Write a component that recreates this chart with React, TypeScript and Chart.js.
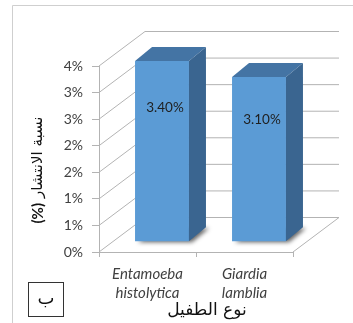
import { useEffect, useRef } from "react";
import { Chart, registerables } from "chart.js";

Chart.register(...registerables);

// ---- data ----
const categories: string[][] = [
  ["Entamoeba", "histolytica"],
  ["Giardia", "lamblia"],
];
const prevalence: number[] = [3.4, 3.1];
const valueLabels: string[] = ["3.40%", "3.10%"];
const yMin = 0;
const yMax = 3.5;
const yStep = 0.5;
const yTitleArabic = "نسبة الانتشار";
const yTitleUnit = "(%)";
const xTitle = "نوع الطفيل";
const panelLetter = "ب";

// ---- styles ----
const FRONT = "#5B9BD5";
const TOP = "#4474A4";
const SIDE = "#3A6590";
const GRID = "#b3b3b3";
const TEXT = "#404040";
const LATIN = "Lato, 'Open Sans', sans-serif";
const ARABIC = "'DejaVu Sans', sans-serif";

// 3D geometry (pixels)
const WALL = { dx: 46, dy: -34.5 };
const PLANE = { dx: 14.5, dy: -10.3 };
const DEPTH = { dx: 17, dy: -14 };
const LABEL_K = 0.74;

const threeD = {
  id: "threeD",
  beforeDraw(chart: any) {
    const ctx = chart.ctx;
    ctx.save();
    ctx.strokeStyle = "#cfcfcf";
    ctx.lineWidth = 1;
    ctx.beginPath();
    ctx.moveTo(12.5, 330);
    ctx.lineTo(12.5, 5.5);
    ctx.lineTo(360, 5.5);
    ctx.stroke();
    ctx.restore();
  },
  beforeDatasetsDraw(chart: any) {
    const ctx = chart.ctx;
    const { left, right, bottom } = chart.chartArea;
    const ys = chart.scales.y;
    ctx.save();
    ctx.strokeStyle = GRID;
    ctx.lineWidth = 1;
    ctx.beginPath();
    for (let v = yMin; v <= yMax + 1e-9; v += yStep) {
      const y = ys.getPixelForValue(v);
      ctx.moveTo(left, y);
      ctx.lineTo(left + WALL.dx, y + WALL.dy);
      ctx.lineTo(right + WALL.dx, y + WALL.dy);
    }
    ctx.moveTo(right, bottom);
    ctx.lineTo(right + WALL.dx, bottom + WALL.dy);
    ctx.stroke();

    // shadows under bars
    const meta = chart.getDatasetMeta(0);
    ctx.filter = "blur(2px)";
    ctx.fillStyle = "rgba(0,0,0,0.6)";
    meta.data.forEach((el: any) => {
      const p = el.getProps(["x", "y", "base", "width"], true);
      const xl = p.x - p.width / 2 + PLANE.dx + 3;
      const xr = p.x + p.width / 2 + PLANE.dx + 3;
      const b = p.base + PLANE.dy + 1;
      ctx.beginPath();
      ctx.moveTo(xl, b);
      ctx.lineTo(xr, b);
      ctx.lineTo(xr + DEPTH.dx, b + DEPTH.dy);
      ctx.lineTo(xl + DEPTH.dx, b + DEPTH.dy);
      ctx.closePath();
      ctx.fill();
    });
    ctx.filter = "none";
    ctx.restore();

    ctx.save();
    ctx.translate(PLANE.dx, PLANE.dy);
  },
  afterDatasetsDraw(chart: any) {
    const ctx = chart.ctx;
    ctx.restore();
    const meta = chart.getDatasetMeta(0);
    const ys = chart.scales.y;
    ctx.save();
    meta.data.forEach((el: any, i: number) => {
      const p = el.getProps(["x", "y", "base", "width"], true);
      const xl = p.x - p.width / 2 + PLANE.dx;
      const xr = p.x + p.width / 2 + PLANE.dx;
      const yt = p.y + PLANE.dy;
      const yb = p.base + PLANE.dy;
      // top
      ctx.fillStyle = TOP;
      ctx.beginPath();
      ctx.moveTo(xl, yt);
      ctx.lineTo(xr, yt);
      ctx.lineTo(xr + DEPTH.dx, yt + DEPTH.dy);
      ctx.lineTo(xl + DEPTH.dx, yt + DEPTH.dy);
      ctx.closePath();
      ctx.fill();
      // side
      ctx.fillStyle = SIDE;
      ctx.beginPath();
      ctx.moveTo(xr, yt);
      ctx.lineTo(xr + DEPTH.dx, yt + DEPTH.dy);
      ctx.lineTo(xr + DEPTH.dx, yb + DEPTH.dy);
      ctx.lineTo(xr, yb);
      ctx.closePath();
      ctx.fill();
      // label
      ctx.fillStyle = "#1f1f1f";
      ctx.font = `13.5px ${LATIN}`;
      ctx.textAlign = "center";
      ctx.textBaseline = "middle";
      const ly = ys.getPixelForValue(prevalence[i] * LABEL_K) + PLANE.dy;
      ctx.fillText(valueLabels[i], p.x + PLANE.dx + 3, ly);
    });
    ctx.restore();
  },
  afterDraw(chart: any) {
    const ctx = chart.ctx;
    ctx.save();
    ctx.fillStyle = "#111";
    ctx.textBaseline = "middle";
    // y title rotated
    ctx.translate(38, 170);
    ctx.rotate(-Math.PI / 2);
    ctx.font = `bold 15px ${LATIN}`;
    const uw = ctx.measureText(yTitleUnit).width;
    ctx.font = `15px ${ARABIC}`;
    const aw = ctx.measureText(yTitleArabic).width;
    const gap = 5;
    const total = uw + gap + aw;
    const sx = -total / 2;
    ctx.textAlign = "left";
    ctx.font = `bold 15px ${LATIN}`;
    ctx.fillText(yTitleUnit, sx, 0);
    ctx.font = `15px ${ARABIC}`;
    ctx.fillText(yTitleArabic, sx + uw + gap, 0);
    ctx.restore();

    // x title
    ctx.save();
    ctx.fillStyle = "#111";
    ctx.font = `17px ${ARABIC}`;
    ctx.textAlign = "center";
    ctx.textBaseline = "middle";
    ctx.fillText(xTitle, 207, 311);
    // panel letter box
    ctx.strokeStyle = "#333";
    ctx.lineWidth = 1;
    ctx.strokeRect(28.5, 282.5, 35, 34);
    ctx.font = `18px ${ARABIC}`;
    ctx.fillText(panelLetter, 46, 299);
    ctx.restore();
  },
};

export default function App() {
  const ref = useRef<HTMLCanvasElement | null>(null);
  useEffect(() => {
    if (!ref.current) return;
    const chart = new Chart(ref.current, {
      type: "bar",
      data: {
        labels: categories,
        datasets: [
          {
            data: prevalence,
            backgroundColor: FRONT,
            borderWidth: 0,
            barPercentage: 0.556,
            categoryPercentage: 1,
            clip: false as any,
          },
        ],
      },
      options: {
        animation: false,
        responsive: false,
        devicePixelRatio: 1,
        layout: { padding: { left: 0, right: 60, top: 66, bottom: 0 } },
        plugins: { legend: { display: false }, tooltip: { enabled: false } },
        scales: {
          x: {
            offset: true,
            grid: {
              display: true,
              drawOnChartArea: false,
              drawTicks: true,
              tickLength: 5,
              color: GRID,
              offset: true,
            },
            border: { display: true, color: GRID },
            ticks: {
              font: { family: LATIN, size: 15, style: "italic", lineHeight: 1.25 },
              color: TEXT,
              padding: 8,
              maxRotation: 0,
              autoSkip: false,
            },
            afterFit: (s: any) => {
              s.height = 71;
            },
          },
          y: {
            min: yMin,
            max: yMax,
            ticks: {
              stepSize: yStep,
              callback: (v: any) => Math.round(Number(v)) + "%",
              font: { family: LATIN, size: 14 },
              color: TEXT,
              padding: 9,
            },
            grid: { drawOnChartArea: false, tickLength: 7, color: GRID },
            border: { display: true, color: GRID },
            afterFit: (s: any) => {
              s.width = 99;
            },
          },
        },
      },
      plugins: [threeD],
    });
    return () => chart.destroy();
  }, []);
  return (
    <div style={{ position: "fixed", left: 0, top: 0, width: 353, height: 323, background: "#fff" }}>
      <canvas ref={ref} width={353} height={323} style={{ display: "block" }} />
    </div>
  );
}
